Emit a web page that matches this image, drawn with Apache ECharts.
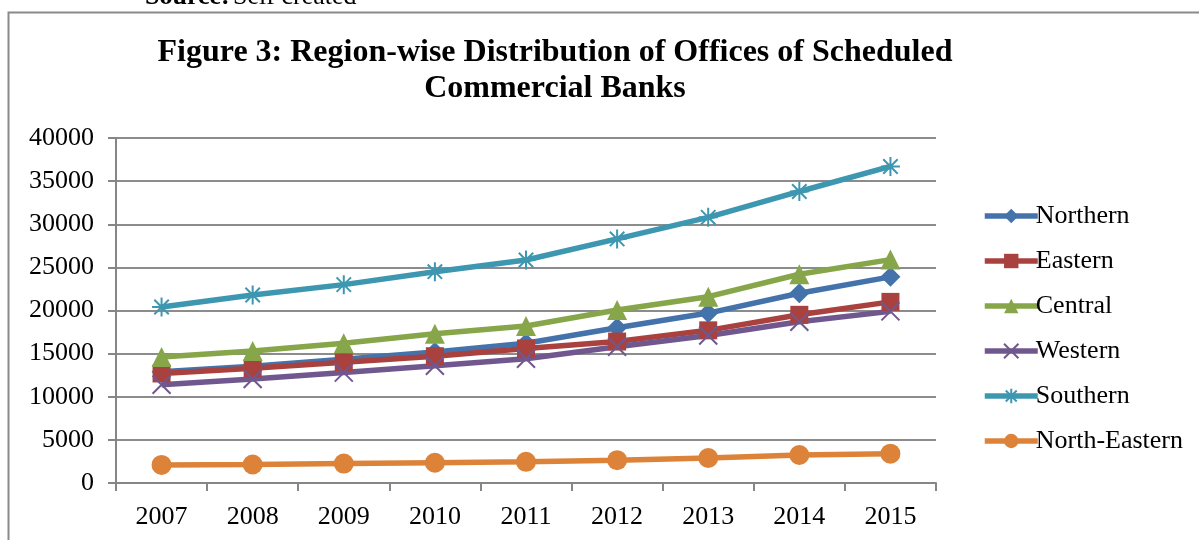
<!DOCTYPE html>
<html>
<head>
<meta charset="utf-8">
<script src="https://cdn.jsdelivr.net/npm/echarts@6/dist/echarts.min.js"></script>
<style>
html,body{margin:0;padding:0;background:#fff;}
#chart{width:1199px;height:540px;}
</style>
</head>
<body>
<div id="chart"></div>
<script>
const years = ['2007','2008','2009','2010','2011','2012','2013','2014','2015'];
const northern = [12900, 13550, 14350, 15200, 16200, 18000, 19700, 22000, 23900];
const eastern = [12700, 13300, 14000, 14700, 15600, 16400, 17700, 19500, 21000];
const central = [14600, 15300, 16200, 17300, 18200, 20050, 21600, 24200, 25900];
const western = [11400, 12050, 12800, 13600, 14400, 15800, 17100, 18700, 19900];
const southern = [20400, 21800, 23000, 24500, 25850, 28300, 30800, 33800, 36700];
const northEastern = [2100, 2150, 2250, 2350, 2450, 2650, 2900, 3250, 3400];
const yTicks = [0, 5000, 10000, 15000, 20000, 25000, 30000, 35000, 40000];

const serif = '"Liberation Serif", "Times New Roman", serif';
const xPath = 'path://M0,0L10,10M10,0L0,10';
const starPath = 'path://M5,0L5,10M0,5L10,5M1.2,1.2L8.8,8.8M8.8,1.2L1.2,8.8';

function mk(name, data, color, symbol, size, stroke) {
  return {
    name: name, type: 'line', data: data,
    symbol: symbol, symbolSize: size,
    lineStyle: {color: color, width: 5.5},
    itemStyle: stroke ? {color: color, borderColor: color, borderWidth: 2} : {color: color},
    emphasis: {disabled: true},
    animation: false
  };
}

const chart = echarts.init(document.getElementById('chart'));
chart.setOption({
  animation: false,
  graphic: [
    {type: 'rect', shape: {x: 8.5, y: 12.5, width: 1300, height: 600}, style: {fill: 'none', stroke: '#8a8a8a', lineWidth: 2}, silent: true},
    {type: 'text', x: 145, y: 10, style: {rich: {b: {fontWeight: 'bold', fontFamily: serif, fontSize: 26, fill: '#000'}, n: {fontFamily: serif, fontSize: 26, fill: '#000'}}, text: '{b|Source:} {n|Self created}', verticalAlign: 'bottom', align: 'left'}},
    {type: 'text', x: 555, y: 35, style: {text: 'Figure 3: Region-wise Distribution of Offices of Scheduled\nCommercial Banks', align: 'center', verticalAlign: 'top', fontFamily: serif, fontWeight: 'bold', fontSize: 32, lineHeight: 36, fill: '#000'}}
  ],
  legend: {
    orient: 'vertical', left: 977, top: 197,
    itemWidth: 53, itemHeight: 18, itemGap: 17,
    lineStyle: {width: 5.5},
    textStyle: {fontFamily: serif, fontSize: 26, lineHeight: 28, color: '#000', padding: [0,0,0,-7]},
    data: ['Northern','Eastern','Central','Western','Southern','North-Eastern']
  },
  grid: {left: 116, right: 263, top: 138, bottom: 57},
  xAxis: {
    type: 'category', data: years, boundaryGap: true,
    axisLine: {lineStyle: {color: '#868686', width: 2}},
    axisTick: {show: true, interval: 0, length: 8, lineStyle: {color: '#868686', width: 2}},
    axisLabel: {fontFamily: serif, fontSize: 26, color: '#000', margin: 21}
  },
  yAxis: {
    type: 'value', min: 0, max: 40000, interval: 5000,
    axisLine: {show: true, lineStyle: {color: '#868686', width: 2}},
    axisTick: {show: true, length: 8, lineStyle: {color: '#868686', width: 2}},
    splitLine: {lineStyle: {color: '#8c8c8c', width: 2}},
    axisLabel: {fontFamily: serif, fontSize: 26, color: '#000', margin: 22,
      formatter: function(v){ return yTicks.indexOf(v) >= 0 ? String(v) : ''; }}
  },
  series: [
    mk('Northern', northern, '#4472AB', 'diamond', 20, false),
    mk('Eastern', eastern, '#A9423F', 'rect', 18, false),
    mk('Central', central, '#87A64A', 'triangle', 20, false),
    mk('Western', western, '#70588F', xPath, 18, true),
    mk('Southern', southern, '#3E97B0', starPath, 19, true),
    mk('North-Eastern', northEastern, '#DC8339', 'circle', 20, false)
  ]
});
</script>
</body>
</html>
